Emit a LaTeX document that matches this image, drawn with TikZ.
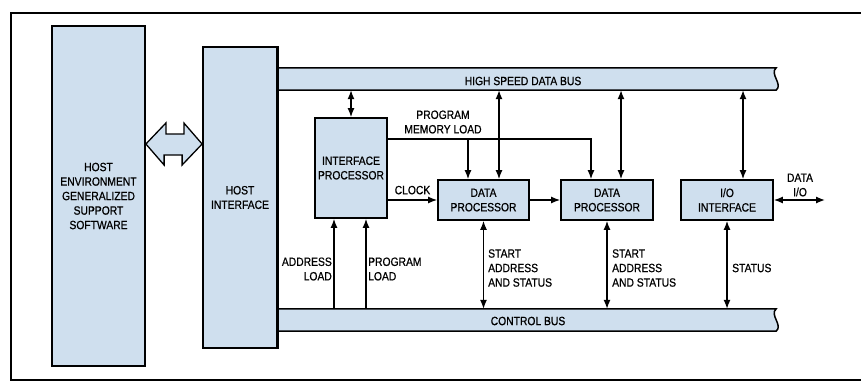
\documentclass[tikz,border=0pt]{standalone}
\usepackage{fontspec}
\setmainfont{Liberation Sans}[FakeStretch=0.86, FakeBold=0.7]
\usetikzlibrary{arrows.meta,calc,positioning}
\definecolor{boxblue}{RGB}{207,223,238}
\tikzset{
  unit/.style={draw, line width=1.8pt, fill=boxblue, inner sep=0pt, align=center,
    font=\fontsize{12}{14.5}\selectfont},
  lbl/.style={inner sep=0pt, font=\fontsize{12}{14.5}\selectfont},
  conn/.style={line width=1.3pt},
  one way/.style={conn, -{Latex[length=9pt,width=7pt]}},
  two way/.style={conn, {Latex[length=9pt,width=7pt]}-{Latex[length=9pt,width=7pt]}},
  bus/.style={inner sep=0pt, font=\fontsize{12}{14.5}\selectfont},
  bus outline/.style={line width=1.5pt, fill=boxblue},
}

\begin{document}
\begin{tikzpicture}[x=1pt, y=-1pt]
  \useasboundingbox (0,0) rectangle (861,385);

  % Frame
  \draw[line width=2pt] (866,13) -- (11,13) -- (11,380) -- (866,380);

  % Host side
  \node[unit, minimum width=93pt, minimum height=340pt] (henv) at (98.5,196)
    {HOST\\ENVIRONMENT\\GENERALIZED\\SUPPORT\\SOFTWARE};
  \node[unit, minimum width=74pt, minimum height=301pt] (hif) at (240,197.5)
    {HOST\\INTERFACE};

  % Link between host and interface
  \draw[line width=1.3pt, fill=boxblue] (henv.east |- 0,144) -- ++(20,-21) -- ++(0,11)
    -- ++(18,0) -- ++(0,-11) -- (hif.west |- 0,144) -- ++(-20,21) -- ++(0,-10)
    -- ++(-18,0) -- ++(0,10) -- cycle;

  % Buses
  \node[bus, minimum width=499pt, minimum height=22pt] (hsbus) at (526.5,79) {};
  \node[bus, minimum width=499pt, minimum height=22pt] (cbus) at (526.5,320) {};
  \foreach \b in {hsbus,cbus}
    \draw[bus outline] (\b.south west) -- (\b.north west) -- (\b.north east)
      .. controls ++(-7,6) and ++(7,-6) .. (\b.south east) -- cycle;
  \draw[line width=1.8pt] (hif.north east) -- (hif.south east);
  \node[lbl] at (523,81) {HIGH SPEED DATA BUS};
  \node[lbl] at (528,321) {CONTROL BUS};

  % Processing units
  \node[unit, minimum width=72pt, minimum height=100pt] (ip) at (351,168)
    {INTERFACE\\PROCESSOR};
  \node[unit, minimum width=91pt, minimum height=40pt] (dpa) at (483.5,200)
    {DATA\\PROCESSOR};
  \node[unit, minimum width=92pt, minimum height=40pt] (dpb) at (607,200)
    {DATA\\PROCESSOR};
  \node[unit, minimum width=92pt, minimum height=40pt] (io) at (727,200)
    {I/O\\INTERFACE};

  % Data bus links
  \draw[two way] (ip.north) -- (ip.north |- hsbus.south);
  \draw[two way] ([xshift=15.5pt]dpa.north) -- ([xshift=15.5pt]dpa.north |- hsbus.south);
  \draw[two way] ([xshift=14pt]dpb.north) -- ([xshift=14pt]dpb.north |- hsbus.south);
  \draw[two way] ([xshift=16pt]io.north) -- ([xshift=16pt]io.north |- hsbus.south);

  % Program memory load
  \draw[one way] (ip.east |- 0,139) -| ([xshift=-16pt]dpb.north);
  \draw[one way] ([xshift=-15.5pt]dpa.north |- 0,139) -- ([xshift=-15.5pt]dpa.north);
  \node[lbl, align=center] at (443,122) {PROGRAM\\MEMORY LOAD};

  % Clock and chaining
  \draw[one way] (ip.east |- dpa.west) -- (dpa.west) node[lbl, midway, above=5pt] {CLOCK};
  \draw[one way] (dpa.east) -- (dpb.west);

  % Control bus links
  \draw[one way] ([xshift=-17pt]ip.south |- cbus.north) -- ([xshift=-17pt]ip.south);
  \draw[one way] ([xshift=15pt]ip.south |- cbus.north) -- ([xshift=15pt]ip.south);
  \node[lbl, align=right, anchor=east] at (332,269) {ADDRESS\\LOAD};
  \node[lbl, align=left, anchor=west] at (368,269) {PROGRAM\\LOAD};

  \draw[two way] (dpa.south) -- (dpa.south |- cbus.north);
  \node[lbl, align=left, anchor=west] at (488,268) {START\\ADDRESS\\AND STATUS};
  \draw[two way] (dpb.south) -- (dpb.south |- cbus.north);
  \node[lbl, align=left, anchor=west] at (612,268) {START\\ADDRESS\\AND STATUS};
  \draw[two way] (io.south) -- (io.south |- cbus.north);
  \node[lbl, anchor=west] at (732,268) {STATUS};

  % Data I/O
  \coordinate (dataend) at (825,200);
  \draw[two way] (io.east) -- (dataend);
  \node[lbl, align=center] at (800,185) {DATA\\I/O};
\end{tikzpicture}
\end{document}
